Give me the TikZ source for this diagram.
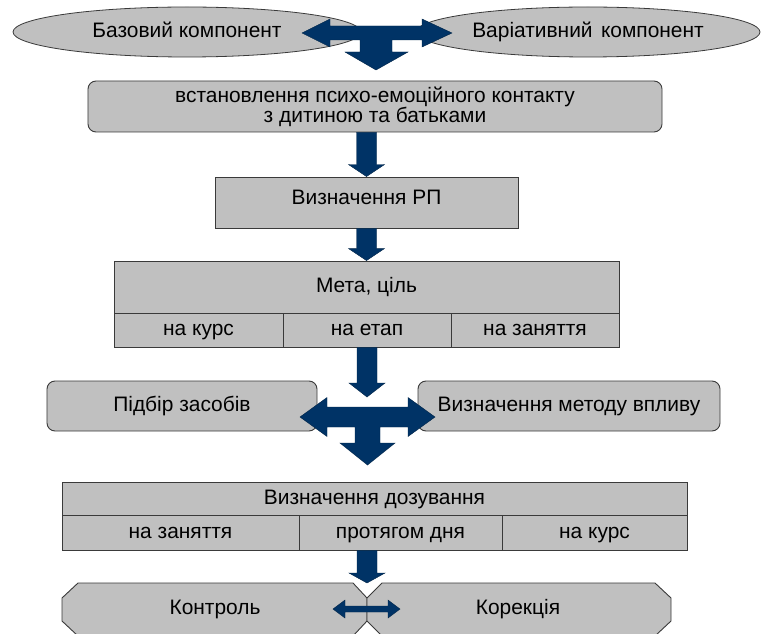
\documentclass[tikz,border=0pt]{standalone}
\usepackage{fontspec}
\setmainfont{Liberation Sans}
\usetikzlibrary{shapes.geometric,calc}
\definecolor{boxgray}{HTML}{C0C0C0}
\definecolor{edgegray}{HTML}{3A3A3A}
\definecolor{navy}{HTML}{003366}
\begin{document}
\begin{tikzpicture}[x=1bp,y=-1bp,
  every node/.style={font=\fontsize{21}{20}\selectfont, text=black},
  line1/.style={text height=15bp, text depth=4bp},
  oval/.style={ellipse, draw=edgegray, fill=boxgray, line width=0.8bp, inner sep=0pt, line1},
  rbox/.style={rectangle, rounded corners=8bp, draw=edgegray, fill=boxgray, line width=0.9bp, inner sep=0pt, align=center},
  sbox/.style={rectangle, draw=edgegray, fill=boxgray, line width=0.9bp, inner sep=0pt, align=center, line1},
  barrow/.style={fill=navy, draw=navy!70!black, line width=0.4bp, line join=miter},
  octo/.style={draw=edgegray, fill=boxgray, line width=0.9bp}
]
\useasboundingbox (0,0) rectangle (763,634);
% top ellipses
\node[oval, minimum width=348bp, minimum height=50bp] (base) at (187,32) {Базовий компонент};
\node[oval, minimum width=344bp, minimum height=50bp] (var) at (588,32) {Варіативний\hspace{0.4em}компонент};
% T arrow
\coordinate (t1) at (376,33);
\filldraw[barrow] (302,33) -- (330,19) -- (330,26) -- (422,26) -- (422,19) -- (452,33) -- (422,47) -- (422,40) -- (392,40) -- (392,52) -- (408,52) -- (376,70) -- (345,52) -- (360,52) -- (360,40) -- (330,40) -- (330,47) -- cycle;
% box 1
\node[rbox, minimum width=574bp, minimum height=51bp] (contact) at (375,106.5) {\raisebox{-2bp}{встановлення психо-емоційного контакту}\\\raisebox{-2bp}{з дитиною та батьками}};
% RP
\node[sbox, minimum width=303bp, minimum height=51bp] (rp) at (366.5,202.5) {\raisebox{3bp}{Визначення РП}};
% Meta table
\node[sbox, minimum width=505bp, minimum height=52bp] (meta) at (366.5,287) {Мета, ціль};
\node[sbox, minimum width=169bp, minimum height=34bp] (m1) at (198.5,330) {на курс};
\node[sbox, minimum width=168bp, minimum height=34bp] (m2) at (367,330) {на етап};
\node[sbox, minimum width=168bp, minimum height=34bp] (m3) at (535,330) {на заняття};
% side boxes
\node[rbox, line1, minimum width=270bp, minimum height=50bp] (means) at (182,406) {Підбір засобів};
\node[rbox, line1, minimum width=302bp, minimum height=50bp] (method) at (569,406) {Визначення методу впливу};
% cross arrow
\coordinate (cross) at (367,397);
\filldraw[barrow] (300,417) -- (327,397.5) -- (327,407) -- (408,407) -- (408,397.5) -- (435,417) -- (408,436.5) -- (408,427) -- (380,427) -- (380,443) -- (395,443) -- (367.5,465) -- (340,443) -- (355,443) -- (355,427) -- (327,427) -- (327,436.5) -- cycle;
% dosage table
\node[sbox, minimum width=625bp, minimum height=33bp] (dose) at (374.5,498.5) {Визначення дозування};
\node[sbox, minimum width=237bp, minimum height=35bp] (d1) at (180.5,532.5) {на заняття};
\node[sbox, minimum width=203bp, minimum height=35bp] (d2) at (400.5,532.5) {протягом дня};
\node[sbox, minimum width=185bp, minimum height=35bp] (d3) at (594.5,532.5) {на курс};
% bottom shapes
\filldraw[octo] (78,583) -- (353,583) -- (367,598) -- (367,621) -- (353,636) -- (78,636) -- (62,621) -- (62,598) -- cycle;
\filldraw[octo] (382,583) -- (655,583) -- (671,598) -- (671,621) -- (655,636) -- (382,636) -- (367,621) -- (367,598) -- cycle;
\node[line1] (ctrl) at (215,609) {Контроль};
\node[line1] (corr) at (518,609) {Корекція};
\coordinate (junc) at (367,583);
% simple block arrows
\newcommand\blockdown[3]{%
  \filldraw[barrow] let \p1=(#1), \p2=(#2) in
    (\x2-10bp,\y1) -- (\x2+10bp,\y1) -- (\x2+10bp,\y2+#3) -- (\x2+18bp,\y2+#3) -- (\x2,\y2) -- (\x2-18bp,\y2+#3) -- (\x2-10bp,\y2+#3) -- cycle;}
\blockdown{contact.south}{rp.north}{12bp}
\blockdown{rp.south}{meta.north}{12bp}
\blockdown{m2.south}{cross}{14bp}
\blockdown{d2.south-|junc}{junc}{10bp}
% small double arrow
\filldraw[barrow] (333,609) -- (345,600) -- (345,606) -- (388,606) -- (388,600) -- (400,609) -- (388,618) -- (388,612) -- (345,612) -- (345,618) -- cycle;
\end{tikzpicture}
\end{document}
